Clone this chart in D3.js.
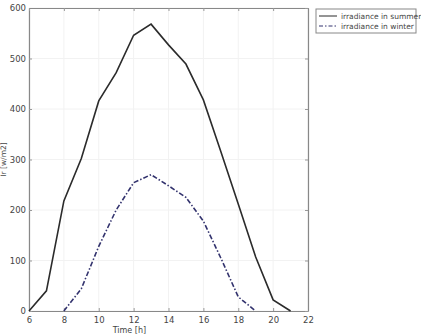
<!DOCTYPE html>
<html>
<head>
<meta charset="utf-8">
<script src="https://cdn.jsdelivr.net/npm/d3@7"></script>
<style>
  body { margin: 0; background: #fff; }
  text { font-family: "DejaVu Sans", sans-serif; fill: #444; }
</style>
</head>
<body>
<svg id="chart"></svg>
<script>
// hours of the day
const hours_summer = [6, 7, 8, 9, 10, 11, 12, 13, 14, 15, 16, 17, 18, 19, 20, 21];
const irr_summer   = [0, 40, 218, 302, 416, 472, 546, 568, 527, 489, 418, 316, 212, 107, 22, 0];
const hours_winter = [8, 9, 10, 11, 12, 13, 14, 15, 16, 17, 18, 19];
const irr_winter   = [0, 44, 128, 200, 254, 270, 248, 225, 178, 105, 28, 0];

const xticks = [6, 8, 10, 12, 14, 16, 18, 20, 22];
const yticks = [0, 100, 200, 300, 400, 500, 600];
const series_names = ["irradiance in summer", "irradiance in winter"];

const W = 421, H = 334;
const margin = {top: 8, right: 113, bottom: 23, left: 29};
const iw = W - margin.left - margin.right;
const ih = H - margin.top - margin.bottom;

const svg = d3.select("#chart").attr("width", W).attr("height", H);
const g = svg.append("g").attr("transform", `translate(${margin.left},${margin.top})`);

const x = d3.scaleLinear().domain([6, 22]).range([0, iw]);
const y = d3.scaleLinear().domain([0, 600]).range([ih, 0]);

// grid
g.append("g").selectAll("line").data(xticks).join("line")
  .attr("x1", d => x(d)).attr("x2", d => x(d)).attr("y1", 0).attr("y2", ih)
  .attr("stroke", "#f2f2f2").attr("stroke-width", 1);
g.append("g").selectAll("line").data(yticks).join("line")
  .attr("x1", 0).attr("x2", iw).attr("y1", d => y(d)).attr("y2", d => y(d))
  .attr("stroke", "#f2f2f2").attr("stroke-width", 1);

// axes
const xaxis = g.append("g").attr("transform", `translate(0,${ih})`)
  .call(d3.axisBottom(x).tickValues(xticks).tickSize(-3).tickPadding(6).tickSizeOuter(0));
const yaxis = g.append("g")
  .call(d3.axisLeft(y).tickValues(yticks).tickSize(-3).tickPadding(3).tickSizeOuter(0));
const xtop = g.append("g")
  .call(d3.axisTop(x).tickValues(xticks).tickSize(-3).tickFormat("").tickSizeOuter(0));
const yright = g.append("g").attr("transform", `translate(${iw},0)`)
  .call(d3.axisRight(y).tickValues(yticks).tickSize(-3).tickFormat("").tickSizeOuter(0));

[xaxis, yaxis, xtop, yright].forEach(a => {
  a.select(".domain").attr("stroke", "#888").attr("stroke-width", 1.2);
  a.selectAll(".tick line").attr("stroke", "#999");
  a.selectAll(".tick text").style("font-size", "8.5px").attr("fill", "#444");
});

// axis labels
svg.append("text")
  .attr("x", margin.left + x(10.8)).attr("y", H - 1)
  .style("font-size", "8px")
  .text("Time [h]");
svg.append("text")
  .attr("transform", `translate(6,${margin.top + y(300)}) rotate(-90)`)
  .attr("text-anchor", "middle")
  .style("font-size", "7.5px")
  .text("Ir [w/m2]");

// lines
const line = d3.line().x(d => x(d[0])).y(d => y(d[1]));
const summer = hours_summer.map((h, i) => [h, irr_summer[i]]);
const winter = hours_winter.map((h, i) => [h, irr_winter[i]]);

g.append("path").attr("d", line(summer))
  .attr("fill", "none").attr("stroke", "#2b2b2b").attr("stroke-width", 1.6);
g.append("path").attr("d", line(winter))
  .attr("fill", "none").attr("stroke", "#33336e").attr("stroke-width", 1.6)
  .attr("stroke-dasharray", "5,2,1.5,2");

// legend
const lg = svg.append("g").attr("transform", "translate(316,9)");
lg.append("rect").attr("width", 100).attr("height", 24)
  .attr("fill", "#fff").attr("stroke", "#888").attr("stroke-width", 1);
const styles = [
  {stroke: "#2b2b2b", dash: null},
  {stroke: "#33336e", dash: "4,2,1.5,2"}
];
series_names.forEach((name, i) => {
  const yy = 7 + i * 10;
  lg.append("line").attr("x1", 3).attr("x2", 21).attr("y1", yy).attr("y2", yy)
    .attr("stroke", styles[i].stroke).attr("stroke-width", 1)
    .attr("stroke-dasharray", styles[i].dash);
  lg.append("text").attr("x", 25).attr("y", yy + 3)
    .style("font-size", "7.5px")
    .text(name);
});
</script>
</body>
</html>
